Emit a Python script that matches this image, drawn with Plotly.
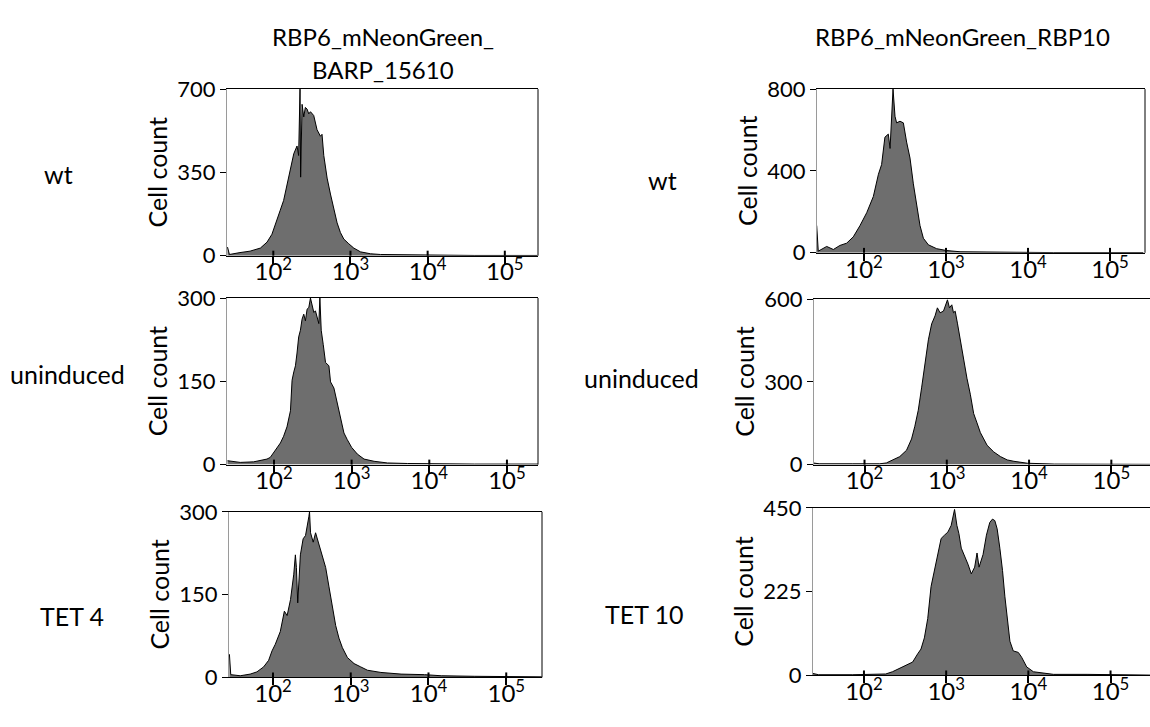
import plotly.graph_objects as go

# ---------------- data ----------------
# Left column: RBP6_mNeonGreen_BARP_15610
wt_left_x = [25.5, 27, 37, 50, 68, 83, 96, 112, 123, 136, 150, 166, 184, 203, 213, 222, 226, 236, 248,
             260, 274, 288, 303, 334, 369, 408, 428, 451, 498, 550, 608, 671, 741, 819, 951, 1104,
             1349, 1820, 2455, 5450, 14760, 40000, 265000]
wt_left_y = [36, 5, 13, 19, 32, 57, 90, 158, 191, 232, 300, 367, 428, 461, 421, 700, 330, 636, 583,
             623, 616, 596, 605, 589, 529, 502, 510, 421, 326, 259, 191, 138, 97, 70, 50, 32,
             16, 8, 5, 3, 2, 1, 1]

un_left_x = [25.2, 36.7, 54.6, 81.2, 89.6, 99, 109, 121, 133, 147, 163, 171, 180, 189, 198, 208, 219,
             230, 242, 254, 267, 281, 295, 310, 326, 342, 360, 378, 390, 406, 431, 461, 510, 535,
             591, 653, 721, 796, 879, 1000, 1184, 1444, 1946, 2893, 5250, 14160, 38200, 251800]
un_left_y = [7, 4, 5, 10, 13, 22, 29, 39, 51, 68, 97, 152, 167, 178, 201, 230, 242,
             262, 271, 259, 280, 283, 300, 288, 274, 277, 265, 254, 300, 242, 216, 184, 178, 149,
             138, 109, 80, 57, 45, 31, 19, 10, 6, 3, 2, 1, 1, 1]

tet_left_x = [27.5, 28.6, 37.9, 50.9, 62.1, 75.7, 87.9, 97.1, 107, 124, 140, 152, 168, 185, 194, 200,
              208, 225, 244, 262, 289, 295, 304, 329, 353, 390, 431, 476, 525, 580, 640, 706, 780,
              906, 1104, 1346, 1643, 2445, 4440, 8880, 14600, 39400, 286000]
tet_left_y = [42, 5, 3, 6, 10, 19, 31, 48, 60, 83, 120, 112, 141, 187, 222, 199,
              135, 222, 251, 257, 291, 300, 262, 245, 262, 242, 222, 199, 164, 129, 94, 71, 54,
              36, 25, 19, 13, 9, 6, 5, 3, 2, 1]

# Right column: RBP6_mNeonGreen_RBP10
wt_right_x = [26.5, 27.7, 35.1, 42.3, 50.9, 61.5, 74.1, 89.4, 108, 130, 150, 164, 180, 198, 208, 217,
              226, 239, 250, 275, 302, 331, 364, 400, 439, 482, 530, 610, 770, 1019, 1483, 3130,
              7980, 20360, 255000]
wt_right_y = [133, 8, 31, 16, 36, 47, 78, 133, 196, 275, 384, 431, 565, 580, 510, 651,
              800, 667, 635, 643, 635, 541, 463, 337, 227, 133, 71, 39, 20, 11, 5, 3,
              1, 1, 1]

un_right_x = [23.8, 28.1, 72, 153, 184, 222, 268, 324, 373, 409, 450, 494, 543, 597, 655, 720, 769,
              829, 911, 955, 1019, 1078, 1151, 1207, 1265, 1351, 1456, 1600, 1758, 1931, 2122, 2330,
              2560, 2812, 3090, 3725, 4500, 5430, 6550, 9550, 20230, 309000]
un_right_y = [6, 3, 3, 3, 6, 17, 29, 52, 93, 139, 197, 278, 359, 452, 510, 539, 568,
              550, 556, 573, 597, 568, 579, 550, 556, 510, 452, 382, 313, 255, 185, 151,
              116, 93, 70, 46, 29, 17, 12, 5, 2, 1]

tet_right_x = [23.3, 28.1, 72, 153, 184, 222, 268, 324, 391, 450, 494, 543, 597, 655, 720, 791, 869,
               955, 1048, 1151, 1207, 1265, 1351, 1430, 1527, 1677, 1842, 2023, 2222, 2375, 2513,
               2812, 3090, 3394, 3659, 3909, 4172, 4500, 4851, 5177, 5530, 5965, 6550, 7546, 8286,
               9550, 11520, 15270, 20230, 51760, 309000]
tet_right_y = [6, 2, 2, 2, 4, 10, 19, 28, 36, 58, 71, 101, 153, 239, 282, 325, 368,
               377, 385, 403, 428, 446, 403, 381, 342, 321, 299, 273, 291, 329, 291,
               325, 377, 411, 420, 416, 394, 342, 282, 213, 161, 92, 66, 62, 49,
               23, 10, 6, 3, 3, 1]

col_title_left_lines = ["RBP6_mNeonGreen_", "BARP_15610"]
col_title_right = "RBP6_mNeonGreen_RBP10"
row_labels_left = ["wt", "uninduced", "TET 4"]
row_labels_right = ["wt", "uninduced", "TET 10"]
y_max = [700, 300, 300, 800, 600, 450]
x_tickvals = [100, 1000, 10000, 100000]
x_ticktext = ["10<sup>2</sup>", "10<sup>3</sup>", "10<sup>4</sup>", "10<sup>5</sup>"]
y_label = "Cell count"

# ---------------- layout constants (pixels) ----------------
W, H = 1150, 727
# (left, right, top, bottom) of each plot area
boxes = [
    (227, 538, 78, 251),
    (227, 538, 295, 468),
    (229, 542, 517, 689),
    (817, 1145, 78, 248),
    (814, 1150, 296, 468),
    (813, 1150, 513, 687),
]
x_ranges = [(1.40, 5.43), (1.395, 5.40), (1.434, 5.46),
            (1.427, 5.427), (1.386, 5.47), (1.38, 5.48)]
right_border = [True, True, True, True, False, False]

series = [(wt_left_x, wt_left_y), (un_left_x, un_left_y), (tet_left_x, tet_left_y),
          (wt_right_x, wt_right_y), (un_right_x, un_right_y), (tet_right_x, tet_right_y)]

FONT = "Lato, 'Open Sans', sans-serif"
fig = go.Figure()
layout = dict(
    width=W, height=H,
    margin=dict(l=0, r=0, t=0, b=0),
    paper_bgcolor="white", plot_bgcolor="white",
    showlegend=False,
    font=dict(family=FONT, color="black"),
)
shapes = []
annotations = []


def paper_ann(text, px, py, size, angle=0):
    return dict(text=text, x=px / W, y=1 - py / H, xref="paper", yref="paper",
                textangle=angle, showarrow=False, xanchor="center", yanchor="middle",
                font=dict(size=size, family=FONT, color="black"))


for i, ((xs, ys), (l, r, t, b)) in enumerate(zip(series, boxes)):
    n = "" if i == 0 else str(i + 1)
    fig.add_trace(go.Scatter(
        x=xs, y=ys, mode="lines", fill="tozeroy",
        fillcolor="#6e6e6e", line=dict(color="black", width=1),
        xaxis="x" + n, yaxis="y" + n, hoverinfo="skip",
    ))
    ymax = y_max[i]
    layout["xaxis" + n] = dict(
        domain=[l / W, r / W], anchor="y" + n, type="log",
        range=list(x_ranges[i]), showgrid=False, zeroline=False,
        showline=True, linecolor="black", linewidth=1, mirror=True,
        ticks="outside", ticklen=7, tickwidth=2, tickcolor="black",
        tickvals=x_tickvals, ticktext=x_ticktext, ticklabelstandoff=-12,
        tickfont=dict(size=24, family=FONT), fixedrange=True,
    )
    layout["yaxis" + n] = dict(
        domain=[1 - b / H, 1 - t / H], anchor="x" + n,
        range=[0, ymax], showgrid=False, zeroline=False,
        showline=True, linecolor="#9a9a9a", linewidth=1, mirror=False,
        ticks="outside", ticklen=6, tickwidth=1, tickcolor="black",
        tickvals=[0, ymax / 2, ymax], ticktext=[str(0), f"{ymax // 2}", str(ymax)],
        tickfont=dict(size=22, family=FONT), fixedrange=True,
    )
    # upward part of the crossing x ticks
    for tv in x_tickvals:
        shapes.append(dict(type="line", xref="x" + n, yref="y" + n + " domain",
                           x0=tv, x1=tv, y0=0, y1=0.03,
                           line=dict(color="black", width=2)))
    if right_border[i]:
        shapes.append(dict(type="line", xref="x" + n + " domain", yref="y" + n + " domain",
                           x0=1, x1=1, y0=0, y1=1, line=dict(color="black", width=1)))
    annotations.append(paper_ann(y_label, l - 70, (t + b) / 2, 25, angle=-90))

# column titles
annotations.append(paper_ann(col_title_left_lines[0], 383, 23, 24))
annotations.append(paper_ann(col_title_left_lines[1], 383, 58, 24))
annotations.append(paper_ann(col_title_right, 962, 23, 24))

# row labels
left_pos = [(58, 166), (67, 374), (72, 625)]
right_pos = [(662, 172), (641, 378), (644, 623)]
for lab, (px, py) in zip(row_labels_left, left_pos):
    annotations.append(paper_ann(lab, px, py, 25))
for lab, (px, py) in zip(row_labels_right, right_pos):
    annotations.append(paper_ann(lab, px, py, 25))

layout["shapes"] = shapes
layout["annotations"] = annotations
fig.update_layout(**layout)

fig.write_html("out.html", config={"displayModeBar": False},
               post_script="document.body.style.margin='0';")
